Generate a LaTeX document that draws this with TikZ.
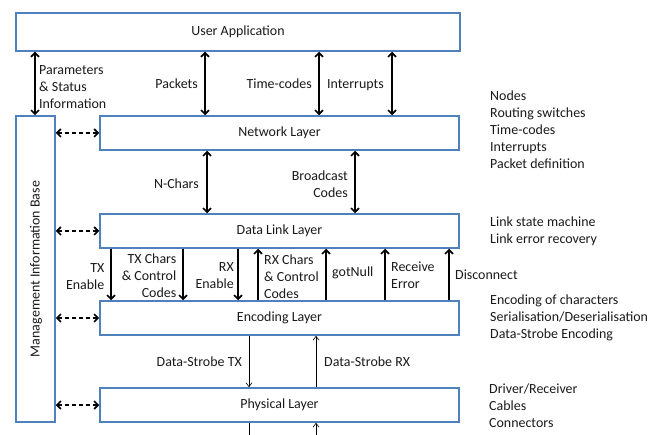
\documentclass[tikz,border=0pt]{standalone}
\usepackage{fontspec}
\setmainfont{Carlito}
\usetikzlibrary{arrows.meta}
\definecolor{boxblue}{HTML}{4F81BD}
\definecolor{txt}{HTML}{1A1A1A}
\begin{document}
\begin{tikzpicture}[x=1bp,y=-1bp,
  font=\fontsize{14}{17}\selectfont, text=txt,
  box/.style={draw=boxblue,line width=1.5bp,inner sep=0pt},
  layer/.style={box,minimum height=34bp,minimum width=359bp},
  tip/.style={},
  bi/.style={line width=1.6bp,{Straight Barb[length=4bp,width=8bp]}-{Straight Barb[length=4bp,width=8bp]}},
  dn/.style={line width=1.6bp,-{Straight Barb[length=4bp,width=8bp]}},
  fine/.style={line width=0.6bp,-{Straight Barb[length=4bp,width=6bp]}},
  dsh/.style={bi,dash pattern=on 4bp off 3bp},
  lbl/.style={inner sep=0pt,text height=10bp,text depth=3bp},
  mlbl/.style={inner sep=0pt},
  ]
\useasboundingbox[fill=white] (0,0) rectangle (666,435);

% boxes
\node[box,minimum width=444bp,minimum height=38bp] (ua) at (238,32) {User Application};
\node[box,minimum width=39bp,minimum height=306bp] (mib) at (35.5,269) {};
\node[rotate=90] (mibt) at (36,269) {Management Information Base};
\node[layer] (net) at (279.5,133) {Network Layer};
\node[layer] (dl)  at (279.5,231) {Data Link Layer};
\node[layer] (enc) at (279.5,318) {Encoding Layer};
\node[layer] (phy) at (279.5,405) {Physical Layer};

% x positions
\coordinate (xPar) at (35,0);
\coordinate (xPk) at (205,0);
\coordinate (xTc) at (319,0);
\coordinate (xIr) at (392,0);
\coordinate (xNc) at (207,0);
\coordinate (xBc) at (355,0);
\coordinate (xTE) at (111,0);
\coordinate (xTC) at (183,0);
\coordinate (xRE) at (238,0);
\coordinate (xRC) at (258,0);
\coordinate (xGN) at (326,0);
\coordinate (xRErr) at (385,0);
\coordinate (xDc) at (449,0);
\coordinate (xDT) at (249,0);
\coordinate (xDR) at (316,0);
\coordinate (bot) at (0,437);

% top arrows
\draw[bi] (ua.south -| xPar) -- (mib.north -| xPar);
\draw[bi] (ua.south -| xPk) -- (net.north -| xPk);
\draw[bi] (ua.south -| xTc) -- (net.north -| xTc);
\draw[bi] (ua.south -| xIr) -- (net.north -| xIr);
\node[mlbl,align=left,anchor=west] (lpar) at (39,87) {Parameters\\\& Status\\Information};
\node[lbl,anchor=east] (lpk) at (198,85) {Packets};
\node[lbl,anchor=east] (ltc) at (312,85) {Time-codes};
\node[lbl,anchor=west] (lir) at (327,85) {Interrupts};

% network to data link
\draw[bi] (net.south -| xNc) -- (dl.north -| xNc);
\draw[bi] (net.south -| xBc) -- (dl.north -| xBc);
\node[lbl,anchor=east] (lnc) at (199,185) {N-Chars};
\node[mlbl,align=right,anchor=east] (lbc) at (348,184.5) {Broadcast\\Codes};

% dashed MIB arrows
\draw[dsh] (mib.east |- net.west) -- (net.west);
\draw[dsh] (mib.east |- dl.west) -- (dl.west);
\draw[dsh] (mib.east |- enc.west) -- (enc.west);
\draw[dsh] (mib.east |- phy.west) -- (phy.west);

% data link <-> encoding
\draw[dn] (dl.south -| xTE) -- (enc.north -| xTE);
\draw[dn] (dl.south -| xTC) -- (enc.north -| xTC);
\draw[dn] (dl.south -| xRE) -- (enc.north -| xRE);
\draw[dn] (enc.north -| xRC) -- (dl.south -| xRC);
\draw[dn] (enc.north -| xGN) -- (dl.south -| xGN);
\draw[dn] (enc.north -| xRErr) -- (dl.south -| xRErr);
\draw[dn] (enc.north -| xDc) -- (dl.south -| xDc);
\node[mlbl,align=right,anchor=east] (lte) at (104.5,277) {TX\\Enable};
\node[mlbl,align=right,anchor=east] (ltcc) at (176.5,276) {TX Chars\\\& Control\\Codes};
\node[mlbl,align=right,anchor=east] (lre) at (234,276) {RX\\Enable};
\node[mlbl,align=left,anchor=west] (lrcc) at (264,277) {RX Chars\\\& Control\\Codes};
\node[lbl,anchor=west] (lgn) at (332,273) {gotNull};
\node[mlbl,align=left,anchor=west] (lrerr) at (391,275) {Receive\\Error};
\node[lbl,anchor=west] (ldc) at (455,276) {Disconnect};

% encoding <-> physical
\draw[fine] (enc.south -| xDT) -- (phy.north -| xDT);
\draw[fine] (phy.north -| xDR) -- (enc.south -| xDR);
\node[lbl,anchor=east] (ldt) at (242,363) {Data-Strobe TX};
\node[lbl,anchor=west] (ldr) at (324,363) {Data-Strobe RX};
\draw[line width=0.6bp] (phy.south -| xDT) -- (xDT |- bot);
\draw[fine] (xDR |- bot) -- (phy.south -| xDR);

% right descriptions
\node[mlbl,align=left,anchor=west] (dnet) at (490,130) {Nodes\\Routing switches\\Time-codes\\Interrupts\\Packet definition};
\node[mlbl,align=left,anchor=west] (ddl) at (490,231.5) {Link state machine\\Link error recovery};
\node[mlbl,align=left,anchor=west] (denc) at (490,318) {Encoding of characters\\Serialisation/Deserialisation\\Data-Strobe Encoding};
\node[mlbl,align=left,anchor=west] (dphy) at (489,405.5) {Driver/Receiver\\Cables\\Connectors};
\end{tikzpicture}
\end{document}
